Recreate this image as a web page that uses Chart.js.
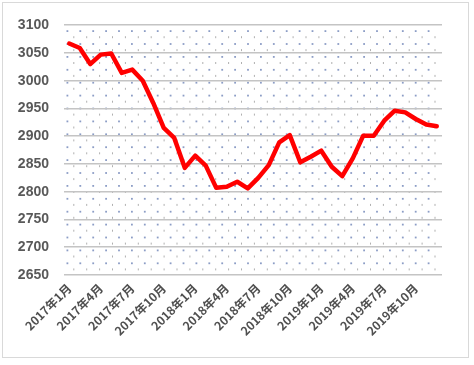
<!DOCTYPE html>
<html>
<head>
<meta charset="utf-8">
<script src="https://cdn.jsdelivr.net/npm/chart.js@4/dist/chart.umd.min.js"></script>
<style>
  html, body { margin: 0; padding: 0; background: #fff; }
  .wrap { position: relative; width: 474px; height: 365px; }
  .frame { position: absolute; left: 2px; top: 2px; width: 467px; height: 356px; border: 1.5px solid #d9d9d9; box-sizing: border-box; pointer-events: none; }
</style>
</head>
<body>
<div class="wrap">
  <canvas id="price_chart" width="474" height="365"></canvas>
  <div class="frame"></div>
</div>
<script>
// months 2017-01 .. 2019-12
const years = [2017, 2018, 2019];
const months = [1, 2, 3, 4, 5, 6, 7, 8, 9, 10, 11, 12];
const labels = [];
years.forEach((y) => months.forEach((m) => labels.push(y + "年" + m + "月")));

const prices = [
  3067, 3059, 3030, 3047, 3049, 3014, 3020, 3000, 2960, 2915, 2897, 2843,
  2865, 2847, 2807, 2809, 2818, 2806, 2825, 2848, 2889, 2902, 2853, 2863,
  2874, 2845, 2828, 2860, 2901, 2901, 2928, 2946, 2943, 2931, 2921, 2918,
];

const yMin = 2650;
const yMax = 3100;
const yStep = 50;

// dotted plot-area fill, like the Excel pattern
const dotPattern = {
  id: "dotPattern",
  beforeDraw(chart) {
    const { ctx, chartArea } = chart;
    const step = 12.9;
    ctx.save();
    for (let y = chartArea.top + 5; y < chartArea.bottom; y += step) {
      for (let x = chartArea.left + 2.5; x < chartArea.right - 4; x += step) {
        ctx.fillStyle = "#8c9dc6";
        ctx.fillRect(x, y, 1.8, 1.8);
        if (y + 6.5 < chartArea.bottom) {
          ctx.fillStyle = "#b0b0b0";
          ctx.fillRect(x + 6.8, y + 6, 1, 2);
        }
      }
    }
    ctx.restore();
  },
};

const chartCanvas = document.getElementById("price_chart");
chartCanvas.chart = new Chart(chartCanvas, {
  type: "line",
  data: {
    labels: labels,
    datasets: [
      {
        data: prices,
        borderColor: "#ff0000",
        borderWidth: 4.5,
        pointRadius: 0,
        tension: 0,
        borderJoinStyle: "round",
        borderCapStyle: "round",
      },
    ],
  },
  options: {
    responsive: false,
    animation: false,
    layout: { padding: { left: 0, right: 32, top: 25.2, bottom: 0 } },
    plugins: { legend: { display: false }, tooltip: { enabled: false } },
    scales: {
      x: {
        offset: true,
        grid: { display: false, drawTicks: false },
        border: { display: false },
        afterFit: (axis) => { axis.height = 90; },
        ticks: {
          autoSkip: false,
          minRotation: 45,
          maxRotation: 45,
          padding: 6,
          color: "#505050",
          font: { family: "Noto Sans CJK SC", size: 12, weight: "bold" },
          callback: (v, i) => (i % 3 === 0 ? labels[i] : ""),
        },
      },
      y: {
        min: yMin,
        max: yMax,
        grid: { color: "#c4c4c4", lineWidth: 1.5, drawTicks: false },
        border: { display: false },
        afterFit: (axis) => { axis.width = 64; },
        ticks: {
          stepSize: yStep,
          padding: 15,
          color: "#595959",
          font: { family: "Liberation Sans", size: 14, weight: "bold" },
          callback: (v) => String(v),
        },
      },
    },
  },
  plugins: [dotPattern],
});
</script>
</body>
</html>
